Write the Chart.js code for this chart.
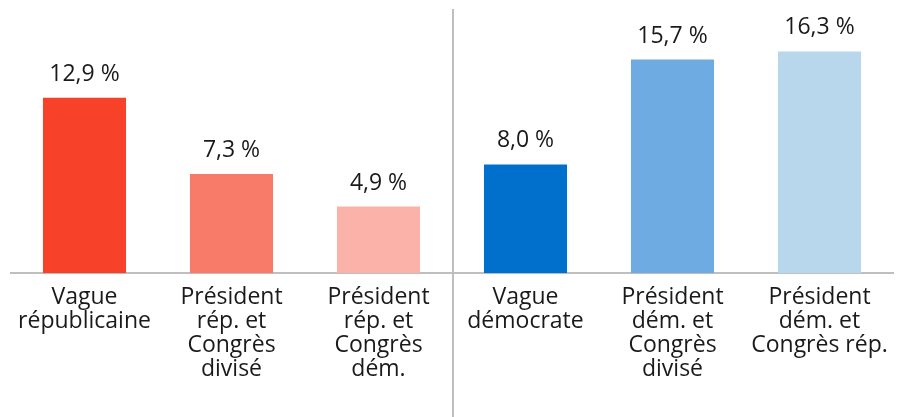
<!DOCTYPE html>
<html>
<head>
<meta charset="utf-8">
<script src="https://cdn.jsdelivr.net/npm/chart.js@4.4.1/dist/chart.umd.min.js"></script>
<style>
  html, body { margin: 0; padding: 0; background: #fff; }
  #wrap { width: 901px; height: 417px; position: relative; }
</style>
</head>
<body>
<div id="wrap"><canvas id="barChart"></canvas></div>
<script>
// donnees du graphique
const categories = [
  ['Vague', 'républicaine'],
  ['Président', 'rép. et', 'Congrès', 'divisé'],
  ['Président', 'rép. et', 'Congrès', 'dém.'],
  ['Vague', 'démocrate'],
  ['Président', 'dém. et', 'Congrès', 'divisé'],
  ['Président', 'dém. et', 'Congrès rép.']
];
const values = [12.9, 7.3, 4.9, 8.0, 15.7, 16.3];
const barColors = ['#F84129', '#F87B69', '#FBB2A9', '#0070CD', '#6EABE2', '#B8D7EC'];

const fontFamily = "'Open Sans', sans-serif";

// etiquettes de valeur au-dessus des barres
const valueLabels = {
  id: 'valueLabels',
  afterDatasetsDraw(chart) {
    const ctx = chart.ctx;
    const meta = chart.getDatasetMeta(0);
    ctx.save();
    ctx.font = '23px ' + fontFamily;
    ctx.fillStyle = '#1a1a1a';
    ctx.textAlign = 'center';
    ctx.textBaseline = 'alphabetic';
    meta.data.forEach((bar, i) => {
      const txt = values[i].toFixed(1).replace('.', ',') + ' %';
      ctx.fillText(txt, bar.x, bar.y - 17);
    });
    ctx.restore();
  }
};

// ligne verticale entre les deux groupes
const separator = {
  id: 'separator',
  afterDraw(chart) {
    const x = chart.scales.x;
    const px = (x.getPixelForValue(2) + x.getPixelForValue(3)) / 2 + 1;
    const ctx = chart.ctx;
    ctx.save();
    ctx.strokeStyle = '#BFBFBF';
    ctx.lineWidth = 2;
    ctx.beginPath();
    ctx.moveTo(px, 9);
    ctx.lineTo(px, chart.height);
    ctx.stroke();
    ctx.restore();
  }
};

const ctx = document.getElementById('barChart').getContext('2d');
const barChart = new Chart(ctx, {
  type: 'bar',
  data: {
    labels: categories,
    datasets: [{
      data: values,
      backgroundColor: barColors,
      borderWidth: 0,
      categoryPercentage: 1,
      barPercentage: 0.565
    }]
  },
  options: {
    responsive: true,
    maintainAspectRatio: false,
    animation: false,
    layout: { padding: { left: 11, right: 8, top: 1, bottom: 24 } },
    plugins: {
      legend: { display: false },
      tooltip: { enabled: false }
    },
    scales: {
      x: {
        grid: { display: false, drawTicks: false },
        border: { display: true, color: '#BFBFBF', width: 2 },
        ticks: {
          color: '#1a1a1a',
          padding: 12,
          maxRotation: 0,
          autoSkip: false,
          font: { family: fontFamily, size: 23, lineHeight: 1.04 }
        }
      },
      y: {
        display: false,
        min: 0,
        max: 20
      }
    }
  },
  plugins: [valueLabels, separator]
});
</script>
</body>
</html>
